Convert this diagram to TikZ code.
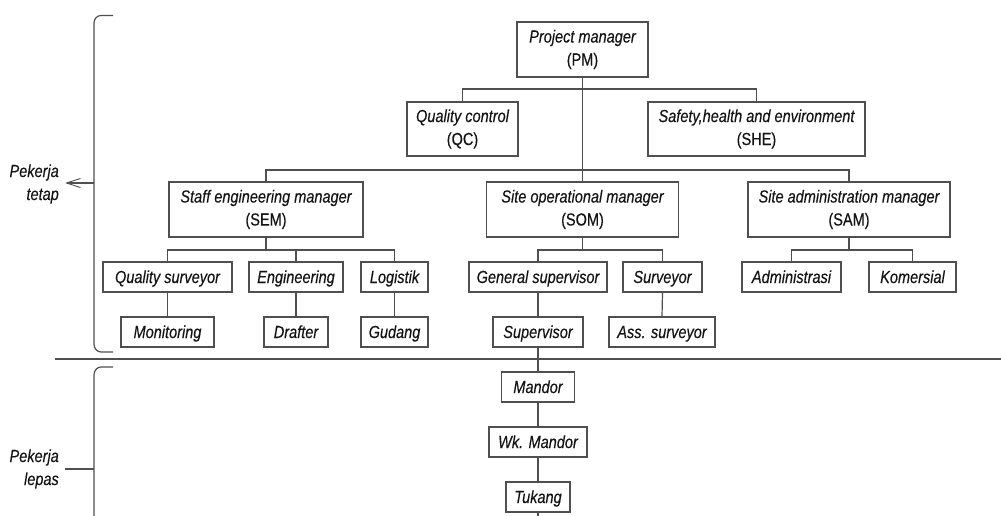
\documentclass[tikz,border=0pt]{standalone}
\usepackage{fontspec}
\setmainfont{Liberation Sans}[FakeStretch=0.83,FakeBold=0.3]
\usetikzlibrary{arrows.meta}
\definecolor{linec}{HTML}{4F4F4F}
\definecolor{txtc}{HTML}{141414}
\begin{document}
\begin{tikzpicture}[x=1pt,y=-1pt,
  every node/.style={text=txtc, font=\fontsize{17.5}{23}\selectfont\itshape},
  bx/.style={draw=linec, line width=1.2pt, inner sep=0pt, align=center},
  big/.style={bx, minimum height=55pt},
  sml/.style={bx, minimum height=30pt, text height=13pt, text depth=1pt},
  conn/.style={draw=linec, line width=1.2pt},
  lbl/.style={align=right, anchor=east, inner sep=0pt}]
\useasboundingbox (0,0) rectangle (1001,516);

% boxes
\node[big, minimum width=131pt] (PM) at (582.5,49.5) {Project manager\\\upshape(PM)};
\node[big, minimum width=111pt, minimum height=54pt] (QC) at (462.5,129) {Quality control\\\upshape(QC)};
\node[big, minimum width=217pt, minimum height=54pt] (SHE) at (756.5,129) {Safety,health and environment\\\upshape(SHE)};
\node[big, minimum width=194pt] (SEM) at (266,209.5) {Staff engineering manager\\\upshape(SEM)};
\node[big, minimum width=192pt] (SOM) at (582.5,209.5) {Site operational manager\\\upshape(SOM)};
\node[big, minimum width=202pt] (SAM) at (849,209.5) {Site administration manager\\\upshape(SAM)};

\node[sml, minimum width=129pt] (QS) at (167.5,277) {Quality surveyor};
\node[sml, minimum width=94pt] (ENG) at (296,277) {Engineering};
\node[sml, minimum width=67pt] (LOG) at (394.5,277) {Logistik};
\node[sml, minimum width=138pt] (GS) at (538,277) {General supervisor};
\node[sml, minimum width=79pt] (SUR) at (662.5,277) {Surveyor};
\node[sml, minimum width=99pt] (ADM) at (791.5,277) {Administrasi};
\node[sml, minimum width=87pt] (KOM) at (912.5,277) {Komersial};

\node[sml, minimum width=93pt] (MON) at (167.5,332) {Monitoring};
\node[sml, minimum width=64pt] (DRA) at (296,332) {Drafter};
\node[sml, minimum width=67pt] (GUD) at (394.5,332) {Gudang};
\node[sml, minimum width=90pt] (SUP) at (538,332) {Supervisor};
\node[sml, minimum width=106pt] (ASS) at (662,332) {Ass. surveyor};

\node[sml, minimum width=73pt] (MAN) at (538,387) {Mandor};
\node[sml, minimum width=98pt] (WKM) at (538,442) {Wk. Mandor};
\node[sml, minimum width=64pt] (TUK) at (538,497) {Tukang};

% bus coordinates
\coordinate (b1) at (582.5,89);
\coordinate (b2) at (582.5,170);
\coordinate (s1) at (266,250);
\coordinate (s2) at (582.5,250);
\coordinate (s3) at (849,250);
\coordinate (tend) at (538,516);

% connectors
\draw[conn] (PM.south) -- (SOM.north);
\draw[conn] (QC.north) |- (b1) -| (SHE.north);
\draw[conn] (SEM.north) |- (b2) -| (SAM.north);

\draw[conn] (SEM.south) -- (s1);
\draw[conn] (QS.north) |- (s1) -| (LOG.north);
\draw[conn] (ENG.north) -- (ENG.north |- s1);

\draw[conn] (SOM.south) -- (s2);
\draw[conn] (GS.north) |- (s2) -| (SUR.north);

\draw[conn] (SAM.south) -- (s3);
\draw[conn] (ADM.north) |- (s3) -| (KOM.north);

\draw[conn] (QS.south) -- (MON.north);
\draw[conn] (ENG.south) -- (DRA.north);
\draw[conn] (LOG.south) -- (GUD.north);
\draw[conn] (GS.south) -- (SUP.north);
\draw[conn] (SUR.south) -- (ASS.north);
\draw[conn] (SUP.south) -- (MAN.north);
\draw[conn] (MAN.south) -- (WKM.north);
\draw[conn] (WKM.south) -- (TUK.north);
\draw[conn] (TUK.south) -- (tend);

% divider
\coordinate (dl) at (55,359);
\coordinate (dr) at (1001,359);
\draw[conn] (dl) -- (dr);

% brackets
\draw[conn] (113,15.5) -- (101,15.5) to[out=180,in=90] (94,23) -- (94,344) to[out=-90,in=180] (101,352) -- (113,352);
\draw[conn] (113,367) -- (101,367) to[out=180,in=90] (94,375) -- (94,517);

% side labels
\coordinate (ta) at (94,183);
\coordinate (tb) at (65,183);
\draw[conn, -{Straight Barb[length=14pt,width=9pt,line width=0.9pt]}] (ta) -- (tb);
\node[lbl] (tetap) at (59,184) {Pekerja\\tetap};

\coordinate (la) at (94,469);
\coordinate (lb) at (65,469);
\draw[conn] (la) -- (lb);
\node[lbl] (lepas) at (59,469) {Pekerja\\lepas};
\end{tikzpicture}
\end{document}
